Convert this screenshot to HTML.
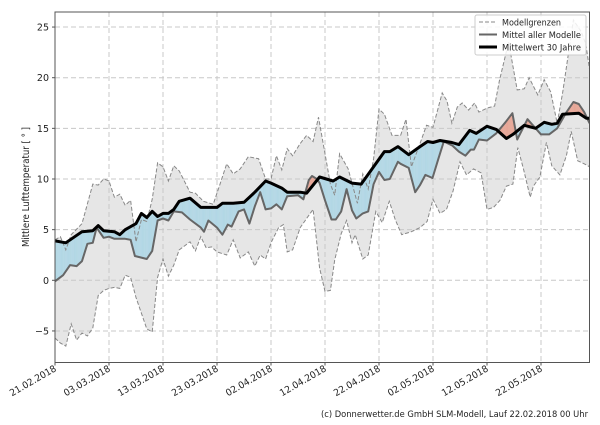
<!DOCTYPE html>
<html><head><meta charset="utf-8"><style>
body{margin:0;background:#fff;width:600px;height:420px;overflow:hidden;font-family:"Liberation Sans","DejaVu Sans",sans-serif}
</style></head><body>
<svg id="s" width="600" height="420" xmlns="http://www.w3.org/2000/svg" font-family="DejaVu Sans, Liberation Sans, sans-serif"></svg>
<script>
const L=55,R=589.5,T=12,B=362.5;
const X=d=>L+5.4*d, Y=t=>280.3-10.13*t;
const clim=[[0,3.9],[2,3.7],[5,4.8],[7,4.9],[8,5.4],[9,4.9],[11,4.8],[12,4.5],[13,5.0],[15,5.6],[16,6.6],[17,6.2],[18,6.8],[19,6.3],[20,6.6],[21,6.6],[22,7.0],[23,7.8],[25,8.1],[27,7.2],[30,7.2],[31,7.6],[33,7.6],[35,7.7],[37,8.7],[39,9.8],[40,9.6],[42,9.1],[43,8.7],[45.4,8.7],[46.6,8.6],[49,10.2],[51.5,9.8],[52.7,10.2],[55,9.6],[56.7,9.5],[59,11.2],[61,12.7],[62,12.7],[63.5,13.2],[65.5,12.4],[67.6,13.2],[69,13.7],[70,13.6],[71.3,13.8],[73.5,13.6],[74.8,13.4],[76.8,14.8],[78,14.5],[80,15.2],[81.7,14.9],[83.6,14.0],[84.8,14.4],[86.9,15.3],[89,15.0],[90.6,15.6],[92,15.4],[93,15.5],[94,16.4],[97,16.5],[98.4,16.0],[99,16.0]];
const mean=[[0,-0.1],[1.5,0.5],[2.8,1.5],[4,1.4],[5,1.9],[6,3.6],[7,3.7],[7.7,5.2],[9,4.2],[10,4.3],[11,4.1],[13,4.1],[14,4.0],[14.8,2.4],[17,2.1],[18,2.9],[19,5.9],[20,6.1],[21,5.9],[22,6.8],[23.5,6.7],[25,6.0],[27,5.2],[27.6,4.8],[28.4,5.9],[30,5.2],[31,4.5],[32,5.5],[32.7,5.3],[34,6.8],[35,7.0],[36,5.6],[37,7.3],[38,8.7],[39,7.0],[40,7.1],[41,7.5],[42,7.0],[43,8.3],[45,8.4],[46,8.0],[47,9.9],[47.6,10.3],[48.5,10.0],[49,9.6],[50,7.9],[51.2,6.0],[52,6.0],[53,6.8],[54,9.0],[55,6.9],[55.8,6.1],[57,6.6],[58,6.8],[59,9.5],[60,10.7],[61,9.9],[62,10.0],[63.5,11.7],[64,11.5],[65.5,11.1],[66.7,8.7],[67.6,9.4],[68.6,10.4],[69.9,10.1],[71,12.0],[72,13.7],[73.6,13.3],[74.8,12.7],[76,12.3],[77,12.9],[77.6,12.9],[78.5,13.9],[80,13.8],[81.7,14.5],[83.4,15.6],[84.7,16.5],[85.6,13.9],[87.5,15.9],[88.5,15.3],[90,14.4],[91.5,14.4],[93,15.0],[94.6,16.5],[96,17.6],[97,17.4],[98,16.6],[99,15.5]];
const up=[[0,4.0],[1,4.3],[2,3.0],[3,4.5],[5,5.6],[7,9.5],[8,9.4],[9,10.0],[10,9.8],[11,8.2],[12,8.5],[13,7.4],[14,7.9],[15,3.8],[16,6.0],[17,5.8],[18,8.0],[19,11.6],[20,11.2],[21,9.8],[22,11.3],[23,10.8],[25,8.7],[26,8.6],[27.5,7.8],[29.3,7.5],[30.5,9.4],[31.8,11.5],[33,10.5],[34.3,11.0],[35.8,12.2],[37.7,12.0],[39,10.0],[40,10.0],[41,12.3],[42,10.9],[43,13.0],[44,12.3],[45.4,13.5],[46.6,14.3],[47.8,13.7],[48.8,16.1],[50,12.5],[51,9.5],[51.8,8.4],[52.7,12.5],[54.3,11.0],[56,7.6],[57,10.5],[58,9.0],[59,12.0],[60,16.9],[61,16.4],[62.4,14.3],[64,14.3],[65,15.9],[66,11.2],[67.8,13.8],[68.8,15.3],[70,15.1],[71.7,18.5],[72.6,17.7],[73.5,15.5],[74.5,17.1],[75.4,17.5],[76.6,16.8],[77.7,17.5],[78.5,16.6],[80,17.0],[81.4,17.2],[82.3,19.7],[84,23.5],[85.6,18.8],[86.9,18.9],[87.8,20.0],[89.4,18.3],[90.6,19.8],[91.8,18.6],[93,15.5],[94,18.5],[96,25.7],[97.5,24.5],[98.3,23.3],[99,20.8]];
const lo=[[0,-5.7],[1,-6.2],[2,-6.5],[3,-4.3],[4,-5.9],[5,-5.2],[6,-5.5],[7,-4.7],[8,-1.5],[9,-1.0],[10,-0.8],[11,-0.7],[12,-0.8],[13,0.5],[14,0.3],[15,-1.7],[17,-4.8],[18,-5.1],[19,0.3],[20,2.1],[21,0.4],[22,1.5],[23,3.0],[25,3.8],[26,2.9],[27,4.3],[28,3.2],[29,3.3],[30,2.8],[31.8,2.5],[33,4.0],[34.3,2.2],[35.8,2.8],[37,1.4],[38,2.5],[39,2.1],[40,3.7],[41.4,5.2],[42.3,5.5],[43,2.8],[44,3.0],[45.4,5.2],[46.6,6.1],[47.8,7.0],[49,1.2],[50,-1.1],[51,-1.0],[51.8,2.0],[53,4.6],[54,5.9],[55,3.7],[55.6,4.5],[57,2.1],[58,2.5],[59.4,6.8],[60.6,5.7],[61.9,7.8],[63,6.0],[64.2,4.5],[66,4.8],[67.6,5.2],[68.9,5.8],[70,8.0],[71.3,6.6],[72.5,7.0],[73.7,8.8],[75,11.7],[76.2,10.4],[77.5,11.0],[78.9,10.6],[80,7.0],[81.2,7.2],[82.4,7.9],[83.6,9.3],[84.8,9.5],[85.7,13.1],[86.8,10.9],[88,8.2],[88.6,9.3],[89.8,10.2],[91,13.6],[92,11.3],[93.5,10.4],[94.7,12.3],[95.6,14.7],[96.8,11.8],[98,11.5],[99,11.2]];
function interp(a,d){for(let i=1;i<a.length;i++){if(d<=a[i][0]){const[x0,y0]=a[i-1],[x1,y1]=a[i];return y0+(y1-y0)*(d-x0)/(x1-x0);}}return a[a.length-1][1];}
const pts=a=>a.map(p=>X(p[0]).toFixed(1)+','+Y(p[1]).toFixed(1)).join(' ');
let h='';
h+=`<defs><clipPath id="c"><rect x="${L}" y="${T}" width="${R-L}" height="${B-T}"/></clipPath></defs>`;
for(let t=-5;t<=25;t+=5){const y=Y(t);h+=`<line x1="${L}" x2="${R}" y1="${y}" y2="${y}" stroke="#c8c8c8" stroke-width="1" stroke-dasharray="5,3"/>`;}
for(let d=10;d<99;d+=10){const x=X(d);h+=`<line x1="${x}" x2="${x}" y1="${T}" y2="${B}" stroke="#c8c8c8" stroke-width="1" stroke-dasharray="5,3"/>`;}
h+='<g clip-path="url(#c)">';
h+=`<polygon points="${pts(up)} ${pts(lo.slice().reverse())}" fill="#c8c8c8" fill-opacity="0.45"/>`;
const step=0.1;
for(let d=0;d<99-1e-9;d+=step){const d2=Math.min(99,d+step);
 const m1=interp(mean,d),c1=interp(clim,d),m2=interp(mean,d2),c2=interp(clim,d2);
 const col=((m1-c1)+(m2-c2))>0?'#e8a898':'#b4d8e6';
 h+=`<polygon points="${X(d)},${Y(m1)} ${X(d2)},${Y(m2)} ${X(d2)},${Y(c2)} ${X(d)},${Y(c1)}" fill="${col}" stroke="${col}" stroke-width="0.3"/>`;}
h+=`<polyline points="${pts(up)}" fill="none" stroke="#888" stroke-width="1" stroke-dasharray="4,2"/>`;
h+=`<polyline points="${pts(lo)}" fill="none" stroke="#888" stroke-width="1" stroke-dasharray="4,2"/>`;
h+=`<polyline points="${pts(mean)}" fill="none" stroke="#666" stroke-width="2" stroke-linejoin="round"/>`;
h+=`<polyline points="${pts(clim)}" fill="none" stroke="#000" stroke-width="3" stroke-linejoin="round"/>`;
h+='</g>';
h+=`<rect x="${L}" y="${T}" width="${R-L}" height="${B-T}" fill="none" stroke="#555" stroke-width="1"/>`;
for(let t=-5;t<=25;t+=5){const y=Y(t);h+=`<line x1="${L-3}" x2="${L}" y1="${y}" y2="${y}" stroke="#555"/><text x="${L-6}" y="${y+3.5}" font-size="9.5" text-anchor="end" fill="#222">${t<0?'\u22125':t}</text>`;}
const labs=['21.02.2018','03.03.2018','13.03.2018','23.03.2018','02.04.2018','12.04.2018','22.04.2018','02.05.2018','12.05.2018','22.05.2018'];
labs.forEach((s,i)=>{const x=X(i*10);h+=`<line x1="${x}" x2="${x}" y1="${B}" y2="${B+3}" stroke="#555"/><text transform="translate(${x+2},${B+8}) rotate(-30)" font-size="9.5" text-anchor="end" textLength="52" lengthAdjust="spacingAndGlyphs" fill="#222">${s}</text>`;});
h+=`<text transform="translate(29,187) rotate(-90)" font-size="9.5" text-anchor="middle" fill="#222" textLength="120" lengthAdjust="spacingAndGlyphs">Mittlere Lufttemperatur [ ° ]</text>`;
h+=`<rect x="475" y="15" width="111" height="40" fill="#fff" fill-opacity="0.85" stroke="#ccc" rx="2"/>`;
h+=`<line x1="479" x2="497" y1="22" y2="22" stroke="#888" stroke-dasharray="4,2"/><text x="502" y="25.5" font-size="8.5" fill="#222" textLength="59" lengthAdjust="spacingAndGlyphs">Modellgrenzen</text>`;
h+=`<line x1="479" x2="497" y1="34.5" y2="34.5" stroke="#666" stroke-width="2"/><text x="502" y="38" font-size="8.5" fill="#222" textLength="79" lengthAdjust="spacingAndGlyphs">Mittel aller Modelle</text>`;
h+=`<line x1="479" x2="497" y1="47" y2="47" stroke="#000" stroke-width="3"/><text x="502" y="50.5" font-size="8.5" fill="#222" textLength="79" lengthAdjust="spacingAndGlyphs">Mittelwert 30 Jahre</text>`;
h+=`<text x="321" y="417" font-size="9" fill="#222" textLength="267" lengthAdjust="spacingAndGlyphs">(c) Donnerwetter.de GmbH SLM-Modell, Lauf 22.02.2018 00 Uhr</text>`;
document.getElementById('s').innerHTML=h;
</script>
</body></html>
